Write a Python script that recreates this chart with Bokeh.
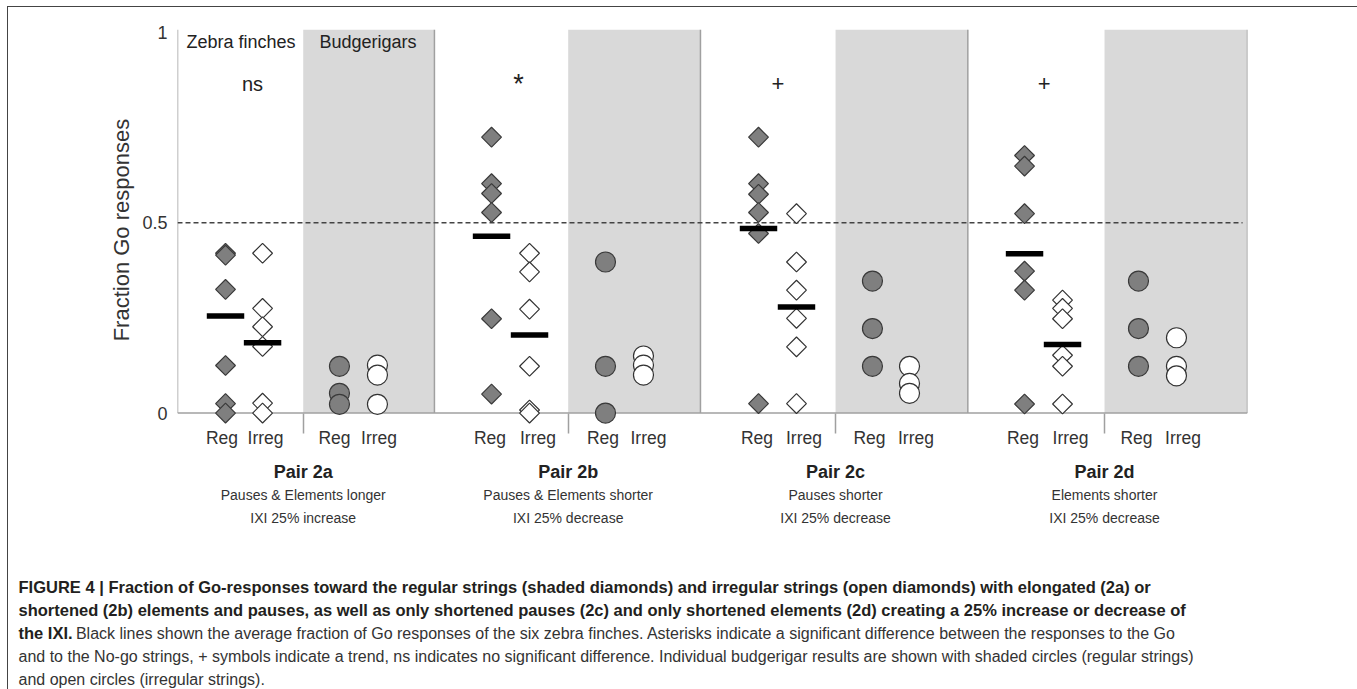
import math
from bokeh.plotting import figure
from bokeh.models import Range1d, FixedTicker, Div
from bokeh.layouts import column
from bokeh.embed import file_html
from bokeh.resources import INLINE
from bokeh.core.properties import value

# ---------------- data ----------------
pairs = ["Pair 2a", "Pair 2b", "Pair 2c", "Pair 2d"]
pair_desc = ["Pauses & Elements longer", "Pauses & Elements shorter", "Pauses shorter", "Elements shorter"]
pair_ixi = ["IXI 25% increase", "IXI 25% decrease", "IXI 25% decrease", "IXI 25% decrease"]
significance = ["ns", "*", "+", "+"]
species = ["Zebra finches", "Budgerigars"]
cond_labels = ["Reg", "Irreg"]

zebra_reg = [
    [0.42, 0.415, 0.325, 0.125, 0.025, 0.0],
    [0.725, 0.603, 0.577, 0.527, 0.248, 0.05],
    [0.725, 0.603, 0.575, 0.527, 0.472, 0.025],
    [0.677, 0.649, 0.524, 0.373, 0.323, 0.024],
]
zebra_irreg = [
    [0.42, 0.275, 0.227, 0.175, 0.026, 0.0],
    [0.42, 0.371, 0.273, 0.123, 0.008, 0.0],
    [0.524, 0.397, 0.323, 0.249, 0.174, 0.025],
    [0.297, 0.275, 0.248, 0.152, 0.123, 0.024],
]
zebra_reg_mean = [0.255, 0.465, 0.485, 0.419]
zebra_irreg_mean = [0.185, 0.205, 0.279, 0.18]

budgie_reg = [
    [0.123, 0.052, 0.023],
    [0.397, 0.123, 0.0],
    [0.347, 0.222, 0.123],
    [0.347, 0.222, 0.123],
]
budgie_irreg = [
    [0.126, 0.1, 0.023],
    [0.15, 0.126, 0.1],
    [0.123, 0.078, 0.052],
    [0.198, 0.123, 0.098],
]

caption_bold_1 = "FIGURE 4 | Fraction of Go-responses toward the regular strings (shaded diamonds) and irregular strings (open diamonds) with elongated (2a) or"
caption_bold_2 = "shortened (2b) elements and pauses, as well as only shortened pauses (2c) and only shortened elements (2d) creating a 25% increase or decrease of"
caption_bold_3 = "the IXI."
caption_norm_3 = "Black lines shown the average fraction of Go responses of the six zebra finches. Asterisks indicate a significant difference between the responses to the Go"
caption_norm_4 = "and to the No-go strings, + symbols indicate a trend, ns indicates no significant difference. Individual budgerigar results are shown with shaded circles (regular strings)"
caption_norm_5 = "and open circles (irregular strings)."

# ---------------- layout positions (x axis units, 4 pairs x 2 species panels) ----------------
pair_start = [0.0, 1.921, 3.910, 5.909]
shade_start = [0.940, 2.921, 4.920, 6.931]
pair_end = [1.921, 3.910, 5.909, 8.0]
zr_x = [0.359, 2.348, 4.344, 6.333]
zi_x = [0.636, 2.632, 4.628, 6.617]
br_x = [1.211, 3.200, 5.196, 7.185]
bi_x = [1.495, 3.484, 5.473, 7.469]
lab_zr = [0.333, 2.336, 4.333, 6.321]
lab_zi = [0.658, 2.695, 4.684, 6.677]
lab_br = [1.174, 3.181, 5.174, 7.170]
lab_bi = [1.507, 3.521, 5.521, 7.518]
sig_x = [0.561, 2.550, 4.490, 6.480]
sig_size = ["20px", "27px", "22px", "22px"]
species_x = [0.067, 1.062]

FONT = "Liberation Sans"
TOP = 1.008
W = 1347

p = figure(width=W, height=450, x_range=Range1d(0, 8), y_range=Range1d(-0.03, TOP),
           output_backend="svg", toolbar_location=None,
           min_border_left=169, min_border_right=108, min_border_top=22, min_border_bottom=33)
p.xgrid.visible = False
p.ygrid.visible = False
p.outline_line_color = None
p.background_fill_color = "white"
p.border_fill_color = "white"

# shaded budgerigar panels
p.quad(left=shade_start, right=pair_end, bottom=0, top=TOP, fill_color="#d9d9d9", line_color=None)

# frame lines
vx = [0.0] + pair_end
p.segment(x0=vx, x1=vx, y0=0, y1=TOP, line_color="#a0a0a0", line_width=1.5)
p.segment(x0=[0], x1=[8], y0=[0], y1=[0], line_color="#a0a0a0", line_width=1.5)

# 0.5 reference line
p.segment(x0=[0], x1=[7.963], y0=[0.5], y1=[0.5], line_color="#444444", line_width=1.4, line_dash="5 3")

# points
for i in range(4):
    zr = zebra_reg[i]; zi = zebra_irreg[i]; br = budgie_reg[i]; bi = budgie_irreg[i]
    p.scatter([zr_x[i]] * len(zr), zr, marker="square", angle=math.pi / 4, size=14,
              fill_color="#7f7f7f", line_color="#3a3a3a", line_width=1.2)
    p.scatter([zi_x[i]] * len(zi), zi, marker="square", angle=math.pi / 4, size=14,
              fill_color="white", line_color="#333333", line_width=1.2)
    p.scatter([br_x[i]] * len(br), br, marker="circle", size=20,
              fill_color="#7f7f7f", line_color="#3a3a3a", line_width=1.2)
    p.scatter([bi_x[i]] * len(bi), bi, marker="circle", size=20,
              fill_color="white", line_color="#333333", line_width=1.2)

# mean bars
mx = zr_x + zi_x
my = zebra_reg_mean + zebra_irreg_mean
p.segment(x0=[x - 0.14 for x in mx], x1=[x + 0.14 for x in mx], y0=my, y1=my,
          line_color="black", line_width=5.5, line_cap="butt")

# significance marks
p.text(x=sig_x, y=[0.866] * 4, text=significance,
       text_font=value(FONT), text_font_size=sig_size, text_align="center",
       text_baseline="alphabetic", text_color="#222222")

# species headers
p.text(x=species_x, y=[0.976, 0.976], text=species, text_font=value(FONT),
       text_font_size="18px", text_align="left", text_baseline="middle", text_color="#222222")

# x axis: condition labels + separator ticks
ticks = []
overrides = {}
for i in range(4):
    for pos, lab in [(lab_zr[i], cond_labels[0]), (lab_zi[i], cond_labels[1]),
                     (lab_br[i], cond_labels[0]), (lab_bi[i], cond_labels[1])]:
        ticks.append(pos)
        overrides[pos] = lab
xa = p.xaxis[0]
xa.ticker = FixedTicker(ticks=ticks, minor_ticks=shade_start)
xa.major_label_overrides = overrides
xa.axis_line_color = None
xa.major_tick_line_color = None
xa.major_tick_out = 0
xa.major_tick_in = 0
xa.minor_tick_in = 11
xa.minor_tick_out = 9
xa.minor_tick_line_color = "#a0a0a0"
xa.minor_tick_line_width = 1.5
xa.major_label_standoff = -6
xa.major_label_text_font = FONT
xa.major_label_text_font_size = "17.5px"
xa.major_label_text_color = "#333333"

ya = p.yaxis[0]
ya.ticker = FixedTicker(ticks=[0, 0.5, 1])
ya.major_label_overrides = {0: "0", 0.5: "0.5", 1: "1"}
ya.axis_line_color = None
ya.major_tick_line_color = None
ya.minor_tick_line_color = None
ya.major_tick_out = 0
ya.major_label_standoff = 10
ya.major_label_text_font = FONT
ya.major_label_text_font_size = "18px"
ya.major_label_text_color = "#333333"
ya.axis_label = "Fraction  Go responses"
ya.axis_label_text_font = FONT
ya.axis_label_text_font_size = "22px"
ya.axis_label_text_font_style = "normal"
ya.axis_label_text_color = "#333333"
ya.axis_label_standoff = 5

# ---------------- pair descriptions (frame aligned with the chart above) ----------------
t = figure(width=W, height=110, x_range=Range1d(0, 8), y_range=Range1d(567, 457),
           output_backend="svg", toolbar_location=None, x_axis_location=None, y_axis_location=None,
           min_border_left=169, min_border_right=108, min_border_top=0, min_border_bottom=0)
t.outline_line_color = None
t.background_fill_color = "white"
t.border_fill_color = "white"
t.grid.visible = False

t.text(x=shade_start, y=[471] * 4, text=pairs, text_align="center", text_baseline="middle",
       text_font=value(FONT), text_font_size="18px", text_font_style="bold", text_color="#222222")
t.text(x=shade_start, y=[494] * 4, text=pair_desc, text_align="center", text_baseline="middle",
       text_font=value(FONT), text_font_size="14px", text_color="#333333")
t.text(x=shade_start, y=[517] * 4, text=pair_ixi, text_align="center", text_baseline="middle",
       text_font=value(FONT), text_font_size="14px", text_color="#333333")

# ---------------- caption ----------------
line_div = '<div style="height:23px;line-height:23px;white-space:nowrap;">{}</div>'
bold_span = '<span style="font-weight:bold;font-size:16.5px;color:#231f20">{}</span>'
norm_span = '<span style="font-size:16px;color:#333333">{}</span>'
cap_html = (
    '<div style="font-family:\'Liberation Sans\',Arial,sans-serif;padding:4px 0 0 6px;">'
    + line_div.format(bold_span.format(caption_bold_1))
    + line_div.format(bold_span.format(caption_bold_2))
    + line_div.format(bold_span.format(caption_bold_3) + " " + norm_span.format(caption_norm_3))
    + line_div.format(norm_span.format(caption_norm_4))
    + line_div.format(norm_span.format(caption_norm_5))
    + "</div>"
)
cap = Div(text=cap_html, width=W, height=115)

layout = column(p, t, cap, styles={"margin-left": "6.5px", "margin-top": "5.5px",
                                   "border": "1.5px solid #444"})

open("out.html", "w").write(file_html(layout, INLINE))
